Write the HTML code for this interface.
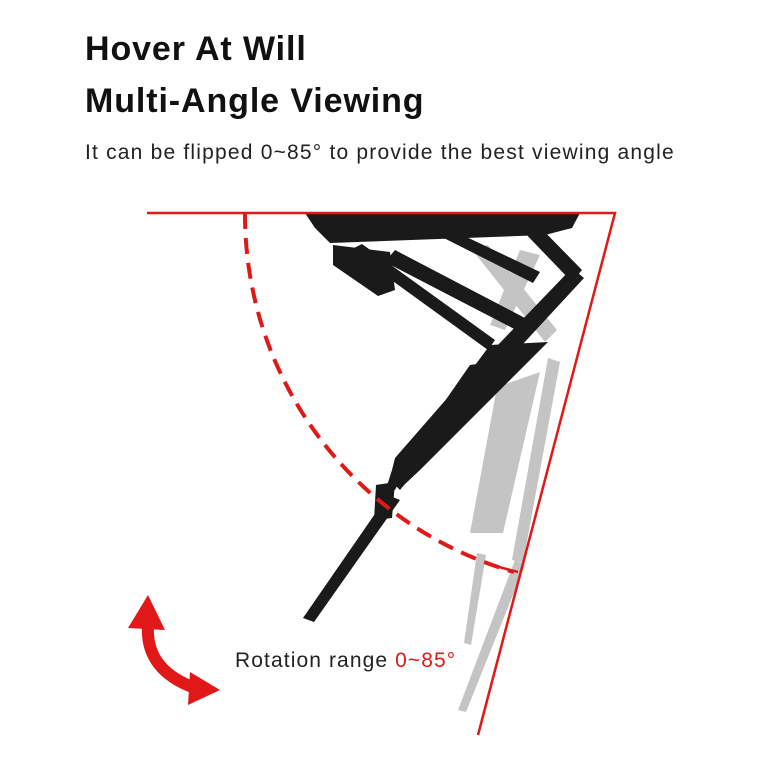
<!DOCTYPE html>
<html><head><meta charset="utf-8"><style>
body{margin:0;width:768px;height:768px;background:#fff;overflow:hidden;font-family:"Liberation Sans",sans-serif;position:relative}
.t{position:absolute;left:85px;font-weight:bold;font-size:34px;color:#111;letter-spacing:0.9px}
.s{position:absolute;left:85px;top:141px;font-size:21px;color:#222;letter-spacing:1.2px}
.r{position:absolute;left:235px;top:649px;font-size:21px;color:#222;letter-spacing:1.1px}
</style></head><body>
<div class="t" style="top:30px">Hover At Will</div>
<div class="t" style="top:82px">Multi-Angle Viewing</div>
<div class="s">It can be flipped 0~85° to provide the best viewing angle</div>
<svg width="768" height="768" style="position:absolute;left:0;top:0">
<!-- ghost gray -->
<g fill="#c4c4c4">
<polygon points="470,247 488,245 557,330 545,342"/>
<polygon points="520,250 540,255 505,330 490,325"/>
<polygon points="548,358 560,362 523,563 512,560"/>
<polygon points="497,387 540,372 503,533 470,533"/>
<polygon points="477,553 486,555 471,645 464,643"/>
<polygon points="515,560 525,565 466,712 458,710"/>
</g>
<!-- black mount -->
<g fill="#1a1a1a">
<polygon points="305,213 580,213 572,228 545,235 330,243 315,228"/>
<polygon points="333,245 390,252 395,290 378,296 333,265"/>
<polygon points="350,250 362,244 495,340 488,350"/>
<polygon points="385,262 395,250 525,318 520,332"/>
<polygon points="420,226 435,222 540,272 533,283"/>
<polygon points="520,228 535,222 582,270 572,282"/>
<polygon points="572,268 584,278 510,358 495,348"/>
<polygon points="490,345 548,342 420,470 404,485 392,470 395,458 470,372"/>
<polygon points="470,365 505,360 400,490 390,480"/>
<polygon points="392,470 402,476 395,490 385,492"/>
<polygon points="376,485 395,482 392,518 374,520"/>
<polygon points="388,495 400,500 314,622 303,618"/>
</g>
<!-- red lines -->
<polyline points="147,213 615,213 478,735" fill="none" stroke="#e01818" stroke-width="2.5"/>
<path d="M245,213 A372,372 0 0 0 514,572" fill="none" stroke="#e01818" stroke-width="4" stroke-dasharray="16,9"/>
<line x1="495" y1="566" x2="518" y2="572" stroke="#e01818" stroke-width="2.5"/>
<!-- curved arrow -->
<path d="M148,625 Q145,670 195,688" fill="none" stroke="#e01818" stroke-width="12"/>
<polygon points="128,628 148,595 165,630" fill="#e01818"/>
<polygon points="190,672 220,690 188,705" fill="#e01818"/>
</svg>
<div class="r">Rotation range <span style="color:#e01818">0~85°</span></div>
</body></html>
